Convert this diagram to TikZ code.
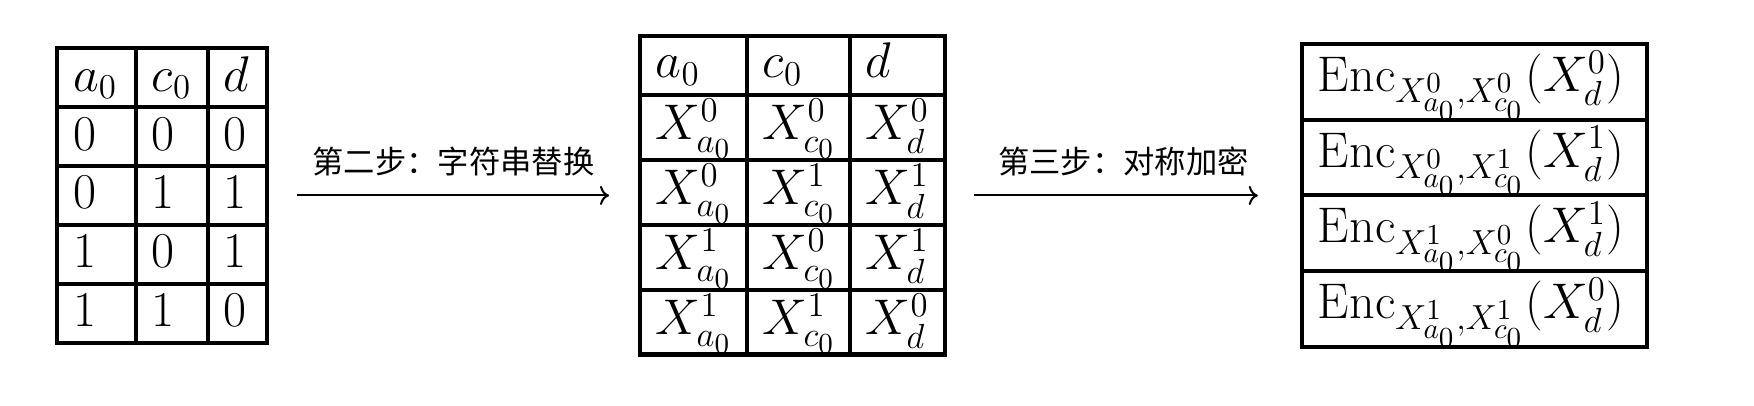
\documentclass[tikz,border=0pt]{standalone}
\usepackage{amsmath}
\usepackage{fontspec}
\newfontfamily\cjk{Noto Sans CJK SC}
\usetikzlibrary{arrows.meta,matrix}
\newcommand{\Enc}{\mathrm{Enc}}
\begin{document}
\begin{tikzpicture}[x=1cm,y=1cm,
tabgrid/.style={matrix of math nodes, inner sep=0pt, outer sep=0pt,
  column sep=-1.4pt, row sep=-1.4pt,
  nodes={draw, line width=1.4pt, font=\LARGE, inner xsep=5.5pt, inner ysep=0pt,
  outer sep=0pt, align=left}},
steplabel/.style={font=\cjk\fontsize{10.8pt}{13pt}\selectfont, above=3pt},
stepline/.style={->, line width=0.7pt}]
\useasboundingbox (0,0) rectangle (21.257,4.920);
% truth table
\matrix (truth) [tabgrid, at={(1.963,2.551)},
  nodes={text height=14.8pt, text depth=5.5pt},
  column 1/.style={nodes={text width=16.2pt}},
  column 2/.style={nodes={text width=13.8pt}},
  column 3/.style={nodes={text width=9.3pt}}]
{
a_0 & c_0 & d \\
0 & 0 & 0 \\
0 & 1 & 1 \\
1 & 0 & 1 \\
1 & 1 & 0 \\
};
% garbled labels
\matrix (labels) [tabgrid, at={(9.605,2.551)},
  nodes={text height=15.5pt, text depth=6.9pt},
  row 1/.style={nodes={text height=14.3pt, text depth=5.8pt}},
  column 1/.style={nodes={text width=25.9pt}},
  column 2/.style={nodes={text width=24.5pt}},
  column 3/.style={nodes={text width=21.8pt}}]
{
a_0 & c_0 & d \\
X_{a_0}^0 & X_{c_0}^0 & X_d^0 \\
X_{a_0}^0 & X_{c_0}^1 & X_d^1 \\
X_{a_0}^1 & X_{c_0}^0 & X_d^1 \\
X_{a_0}^1 & X_{c_0}^1 & X_d^0 \\
};
% encrypted rows
\matrix (cipher) [tabgrid, at={(17.870,2.551)},
  nodes={text height=16.3pt, text depth=9.8pt, text width=108pt}]
{
\Enc_{X_{a_0}^0,X_{c_0}^0}(X_d^0) \\
\Enc_{X_{a_0}^0,X_{c_0}^1}(X_d^1) \\
\Enc_{X_{a_0}^1,X_{c_0}^0}(X_d^1) \\
\Enc_{X_{a_0}^1,X_{c_0}^1}(X_d^0) \\
};
\draw [stepline, shorten <=0.34cm, shorten >=0.35cm] (truth.east) -- node [steplabel] (stepA) {第二步：字符串替换} (labels.west);
\draw [stepline, shorten <=0.33cm, shorten >=0.51cm] (labels.east) -- node [steplabel] (stepB) {第三步：对称加密} (cipher.west);
\end{tikzpicture}
\end{document}
